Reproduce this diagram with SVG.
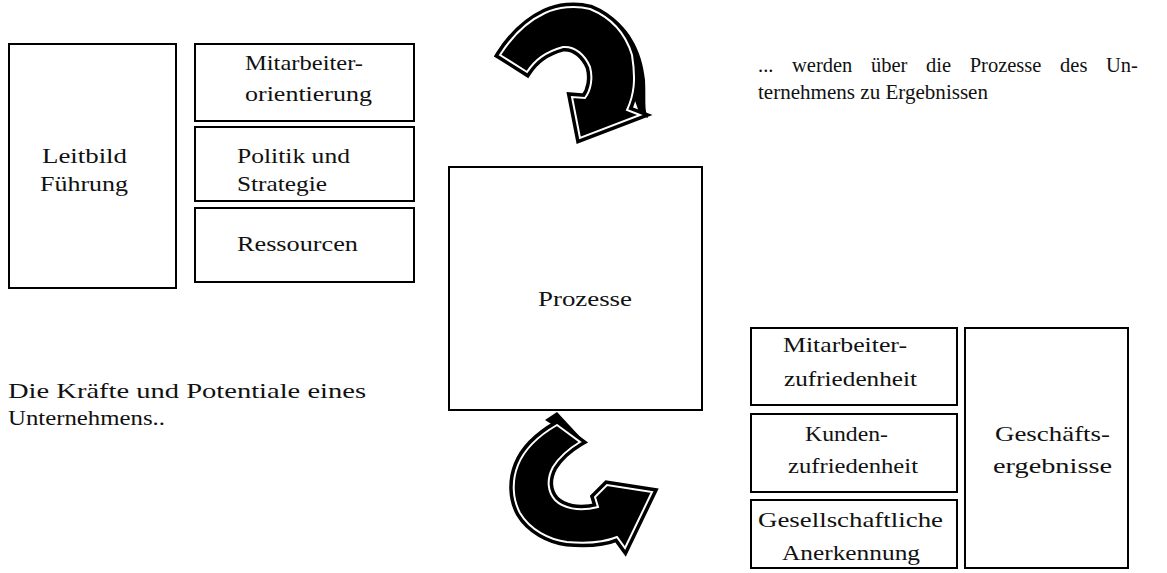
<svg xmlns="http://www.w3.org/2000/svg" width="1167" height="573" viewBox="0 0 1167 573">
  <style>
    .box { fill: #fff; stroke: #000; stroke-width: 2; }
    .lbl { font-family: "Liberation Serif", "DejaVu Serif", serif; font-size: 21px; fill: #111; }
    .note { font-family: "Liberation Serif", "DejaVu Serif", serif; font-size: 21px; fill: #111; }
    .note-s { font-family: "Liberation Serif", "DejaVu Serif", serif; font-size: 20.5px; fill: #111; }
    .arrow-rim { fill: #000; stroke: #000; stroke-width: 9; stroke-linejoin: miter; }
    .arrow-line { fill: #000; stroke: #fff; stroke-width: 2; stroke-linejoin: miter; }
  </style>
  <defs>
    <path id="arcTop" d="M500,55 L527,72 C535,60 545,52 563,47 C575,46 585,55 590,67 C593,78 591,90 585,98 L572,97 L580,138 L640,115 L627,110 C634,95 636,80 632,55 C626,35 612,18 590,9 C575,5 558,7 545,13 C528,21 512,36 500,55 Z"/>
    <path id="arcBottom" d="M557,425 L580,442 C570,448 560,456 553,467 C546,480 548,492 555,500 C563,508 578,512 598,507 L595,497 L607,485 L652,492 L625,548 L617,537 C605,542 590,544 567,542 C550,540 530,530 520,513 C512,498 512,480 518,465 C524,450 538,436 557,425 Z"/>
  </defs>

  <rect width="1167" height="573" fill="#fff"/>

  <!-- enablers -->
  <g id="leitbild">
    <rect class="box" x="9" y="44" width="167" height="244"/>
    <text class="lbl" x="42" y="163" textLength="85" lengthAdjust="spacingAndGlyphs">Leitbild</text>
    <text class="lbl" x="40" y="191" textLength="88" lengthAdjust="spacingAndGlyphs">Führung</text>
  </g>
  <g id="mitarbeiterorientierung">
    <rect class="box" x="195" y="44" width="219" height="77"/>
    <text class="lbl" x="245" y="70" textLength="118" lengthAdjust="spacingAndGlyphs">Mitarbeiter-</text>
    <text class="lbl" x="245" y="101" textLength="127" lengthAdjust="spacingAndGlyphs">orientierung</text>
  </g>
  <g id="politik">
    <rect class="box" x="195" y="127" width="219" height="74"/>
    <text class="lbl" x="237" y="163" textLength="113" lengthAdjust="spacingAndGlyphs">Politik und</text>
    <text class="lbl" x="237" y="191" textLength="90" lengthAdjust="spacingAndGlyphs">Strategie</text>
  </g>
  <g id="ressourcen">
    <rect class="box" x="195" y="208" width="219" height="74"/>
    <text class="lbl" x="237" y="251" textLength="121" lengthAdjust="spacingAndGlyphs">Ressourcen</text>
  </g>

  <!-- processes -->
  <g id="prozesse">
    <rect class="box" x="449" y="167" width="253" height="243" stroke-width="2.5"/>
    <text class="lbl" x="538" y="306" textLength="94" lengthAdjust="spacingAndGlyphs">Prozesse</text>
  </g>

  <!-- results -->
  <g id="mitarbeiterzufriedenheit">
    <rect class="box" x="751" y="328" width="206" height="77"/>
    <text class="lbl" x="783" y="352" textLength="124" lengthAdjust="spacingAndGlyphs">Mitarbeiter-</text>
    <text class="lbl" x="784" y="386" textLength="133" lengthAdjust="spacingAndGlyphs">zufriedenheit</text>
  </g>
  <g id="kundenzufriedenheit">
    <rect class="box" x="751" y="414" width="206" height="78"/>
    <text class="lbl" x="805" y="441" textLength="83" lengthAdjust="spacingAndGlyphs">Kunden-</text>
    <text class="lbl" x="788" y="473" textLength="130" lengthAdjust="spacingAndGlyphs">zufriedenheit</text>
  </g>
  <g id="anerkennung">
    <rect class="box" x="751" y="500" width="206" height="68"/>
    <text class="lbl" x="758" y="527" textLength="185" lengthAdjust="spacingAndGlyphs">Gesellschaftliche</text>
    <text class="lbl" x="782" y="560" textLength="138" lengthAdjust="spacingAndGlyphs">Anerkennung</text>
  </g>
  <g id="geschaeftsergebnisse">
    <rect class="box" x="965" y="328" width="163" height="240"/>
    <text class="lbl" x="995" y="441" textLength="115" lengthAdjust="spacingAndGlyphs">Geschäfts-</text>
    <text class="lbl" x="993" y="473" textLength="119" lengthAdjust="spacingAndGlyphs">ergebnisse</text>
  </g>

  <!-- captions -->
  <g id="caption-left">
    <text class="note" x="8" y="398" textLength="358" lengthAdjust="spacingAndGlyphs">Die Kräfte und Potentiale eines</text>
    <text class="note" x="8" y="425" textLength="157" lengthAdjust="spacingAndGlyphs">Unternehmens..</text>
  </g>
  <g id="caption-right">
    <text class="note-s" x="758" y="72" word-spacing="13.5">... werden über die Prozesse des Un-</text>
    <text class="note-s" x="758" y="99" textLength="230" lengthAdjust="spacingAndGlyphs">ternehmens zu Ergebnissen</text>
  </g>

  <!-- curved flow arrows -->
  <g id="connectors">
    <g id="arrow-in">
      <path d="M604,12 C628,25 642,50 645,80 C646,98 644,110 648,118 L640,115 Z" fill="#000"/>
      <use href="#arcTop" class="arrow-rim"/>
      <use href="#arcTop" class="arrow-line"/>
    </g>
    <g id="arrow-out">
      <path d="M545,420 L557,412 L583,440 L580,442 Z" fill="#000"/>
      <use href="#arcBottom" class="arrow-rim"/>
      <use href="#arcBottom" class="arrow-line"/>
    </g>
  </g>
</svg>
